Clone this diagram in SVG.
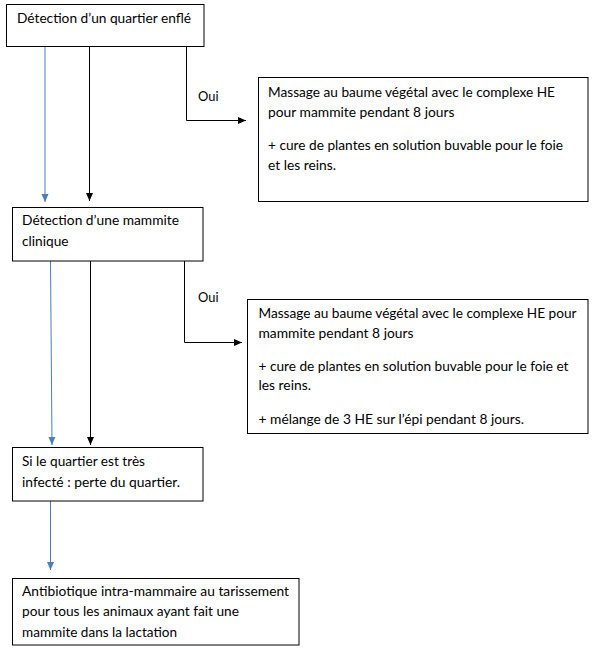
<svg xmlns="http://www.w3.org/2000/svg" width="593" height="649" viewBox="0 0 593 649">
<style>
.box{fill:#fff;stroke:#000;stroke-width:1}
text{font-family:Lato,"Liberation Sans",Arial,sans-serif;font-size:13.4px;fill:#000}
.blk{fill:none;stroke:#000;stroke-width:1}
.blu{fill:none;stroke:#4A7EBB;stroke-width:1}
</style>
<defs>
<marker id="ab" markerUnits="userSpaceOnUse" markerWidth="9" markerHeight="8" refX="8" refY="4" orient="auto"><path d="M0,0.5 L8,4 L0,7.5 z" fill="#000"/></marker>
<marker id="au" markerUnits="userSpaceOnUse" markerWidth="9" markerHeight="8" refX="8" refY="4" orient="auto"><path d="M0,0.5 L8,4 L0,7.5 z" fill="#4A7EBB"/></marker>
</defs>
<rect width="593" height="649" fill="#fff"/>
<g id="connectors">
<line class="blu" x1="45" y1="47" x2="45" y2="202" marker-end="url(#au)"/>
<line class="blk" x1="89.5" y1="47" x2="89.5" y2="201" marker-end="url(#ab)"/>
<polyline class="blk" points="186.5,47 186.5,120.5 246,120.5" marker-end="url(#ab)"/>
<text x="198" y="100.5" textLength="20.5" lengthAdjust="spacingAndGlyphs">Oui</text>
<line class="blu" x1="50.5" y1="261" x2="52" y2="445" marker-end="url(#au)"/>
<line class="blk" x1="90.5" y1="261" x2="90.5" y2="445" marker-end="url(#ab)"/>
<polyline class="blk" points="184.5,261 184.5,342.5 242,342.5" marker-end="url(#ab)"/>
<text x="198" y="301.5" textLength="20.5" lengthAdjust="spacingAndGlyphs">Oui</text>
<line class="blu" x1="50.5" y1="501" x2="50.5" y2="570" marker-end="url(#au)"/>
</g>
<g id="n1">
<rect class="box" x="6.5" y="4.5" width="197.5" height="42"/>
<text x="17" y="22.5" textLength="174" lengthAdjust="spacingAndGlyphs">Détection d’un quartier enflé</text>
</g>
<g id="n2">
<rect class="box" x="258.5" y="77.5" width="329.5" height="124"/>
<text x="268" y="97" textLength="287" lengthAdjust="spacingAndGlyphs">Massage au baume végétal avec le complexe HE</text>
<text x="268" y="117" textLength="186.5" lengthAdjust="spacingAndGlyphs">pour mammite pendant 8 jours</text>
<text x="268" y="150" textLength="295" lengthAdjust="spacingAndGlyphs">+ cure de plantes en solution buvable pour le foie</text>
<text x="268" y="170" textLength="68" lengthAdjust="spacingAndGlyphs">et les reins.</text>
</g>
<g id="n3">
<rect class="box" x="12.5" y="207.5" width="190.5" height="53.5"/>
<text x="22" y="224.5" textLength="157" lengthAdjust="spacingAndGlyphs">Détection d’une mammite</text>
<text x="22" y="245.5" textLength="46.5" lengthAdjust="spacingAndGlyphs">clinique</text>
</g>
<g id="n4">
<rect class="box" x="247.5" y="299.5" width="340.5" height="134"/>
<text x="258.5" y="318" textLength="318" lengthAdjust="spacingAndGlyphs">Massage au baume végétal avec le complexe HE pour</text>
<text x="258.5" y="338" textLength="155" lengthAdjust="spacingAndGlyphs">mammite pendant 8 jours</text>
<text x="258.5" y="370.5" textLength="310" lengthAdjust="spacingAndGlyphs">+ cure de plantes en solution buvable pour le foie et</text>
<text x="258.5" y="390" textLength="52.5" lengthAdjust="spacingAndGlyphs">les reins.</text>
<text x="258.5" y="424" textLength="265.5" lengthAdjust="spacingAndGlyphs">+ mélange de 3 HE sur l’épi pendant 8 jours.</text>
</g>
<g id="n5">
<rect class="box" x="12.5" y="447.5" width="190.5" height="53.5"/>
<text x="22" y="465.5" textLength="123" lengthAdjust="spacingAndGlyphs">Si le quartier est très</text>
<text x="22" y="487" textLength="158" lengthAdjust="spacingAndGlyphs">infecté : perte du quartier.</text>
</g>
<g id="n6">
<rect class="box" x="12.5" y="578.5" width="286.5" height="66.5"/>
<text x="22" y="595.5" textLength="267" lengthAdjust="spacingAndGlyphs">Antibiotique intra-mammaire au tarissement</text>
<text x="22" y="616" textLength="217" lengthAdjust="spacingAndGlyphs">pour tous les animaux ayant fait une</text>
<text x="22" y="636.5" textLength="155" lengthAdjust="spacingAndGlyphs">mammite dans la lactation</text>
</g>
</svg>
